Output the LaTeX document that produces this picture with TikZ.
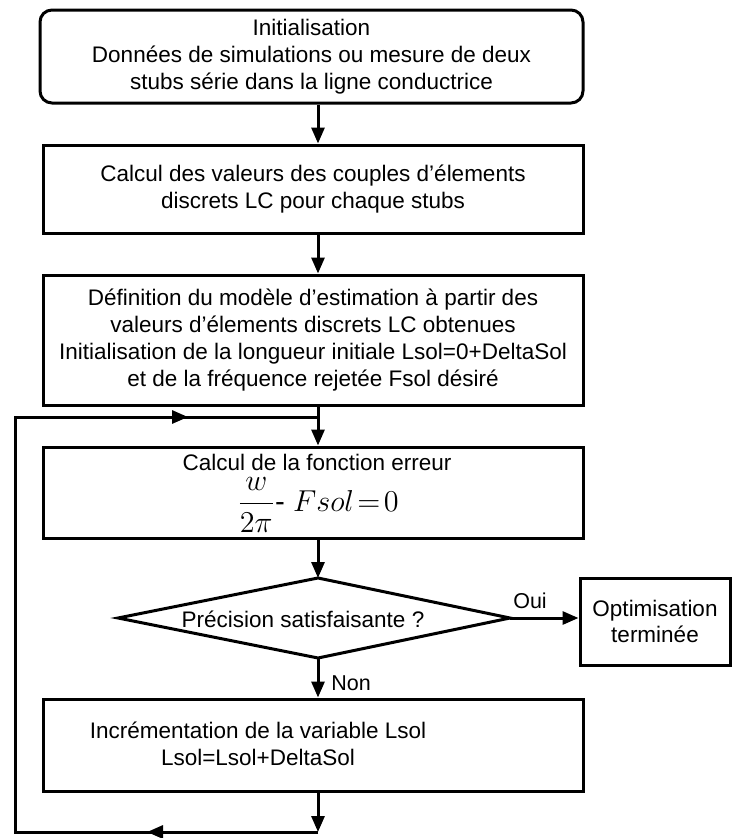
\documentclass[tikz,border=0pt]{standalone}
\usepackage{amsmath,amssymb}
\usepackage{fontspec}
\setmainfont{Liberation Sans}
\usetikzlibrary{arrows.meta}

\begin{document}
\begin{tikzpicture}[x=1pt,y=-1pt,
    box/.style={draw,line width=3pt,minimum width=540pt,inner sep=0pt,align=center},
    flow/.style={line width=3pt,-{Triangle[length=16pt,width=13pt]}},
    line/.style={line width=3pt},
    lbl/.style={font=\fontsize{21.5}{25}\selectfont}]

  \useasboundingbox (0,0) rectangle (738,838);
  \tikzset{every node/.append style={font=\fontsize{22.5}{26.7}\selectfont}}

  % main axis of the chart
  \coordinate (axis) at (318,0);

  % ---- boxes ----
  \node[box,rounded corners=12pt,minimum width=543pt,minimum height=93pt] (init) at (311.5,56.5)
    {Initialisation\\Données de simulations ou mesure de deux\\stubs série dans la ligne conductrice};
  \node[box,minimum height=88pt] (calc) at (313,189)
    {Calcul des valeurs des couples d'élements\\discrets LC pour chaque stubs};
  \node[box,minimum height=130pt] (model) at (313,340)
    {Définition du modèle d'estimation à partir des\\valeurs d'élements discrets LC obtenues\\Initialisation de la longueur initiale Lsol=0+DeltaSol\\et de la fréquence rejetée Fsol désiré};
  \node[box,minimum height=91pt] (err) at (313,492.5) {};
  \node (errtext) at (317,462) {Calcul de la fonction erreur};
  \node[inner sep=0pt] (formula) at (318,505)
    {\scalebox{2.1}{\fontsize{14}{16}\selectfont$\dfrac{w}{2\pi}$- $Fsol\!=\!0$}};

  % decision: diamond drawn from its four corners
  \coordinate (pN) at (318,578);
  \coordinate (pE) at (510,618);
  \coordinate (pS) at (318,658);
  \coordinate (pW) at (118,618);
  \draw[line,line join=miter] (pN) -- (pE) -- (pS) -- (pW) -- cycle;
  \node (prec) at (303,619) {Précision satisfaisante ?};

  \node[box,minimum width=150pt,minimum height=87pt] (fin) at (655,621.5)
    {Optimisation\\terminée};
  \node[box,minimum height=92pt] (incr) at (313,745) {};
  \node[align=center] (incrtext) at (258,744)
    {Incrémentation de la variable Lsol\\Lsol=Lsol+DeltaSol};

  % ---- connectors ----
  \draw[flow] (init.south -| axis) -- (calc.north -| axis);
  \draw[flow] (calc.south -| axis) -- (model.north -| axis);
  \draw[flow] (model.south -| axis) -- (err.north -| axis);
  \draw[flow] (err.south -| axis) -- (pN);
  \draw[flow] (pE) -- (fin.west |- pE);
  \node[lbl] (oui) at (530,601) {Oui};
  \draw[flow] (pS) -- (incr.north -| axis);
  \node[lbl] (non) at (351,683) {Non};

  % ---- loop back ----
  \coordinate (b1) at (318,832);
  \coordinate (b2) at (15,832);
  \coordinate (t1) at (15,417);
  \coordinate (t2) at (318,417);
  \coordinate (bmid) at (147,832);
  \coordinate (tmid) at (188,417);
  \draw[flow] (incr.south -| axis) -- (b1);
  \draw[line] (b1) -- (b2) -- (t1) -- (t2);
  \draw[flow] (b1) -- (bmid);
  \draw[flow] (t1) -- (tmid);

\end{tikzpicture}
\end{document}
